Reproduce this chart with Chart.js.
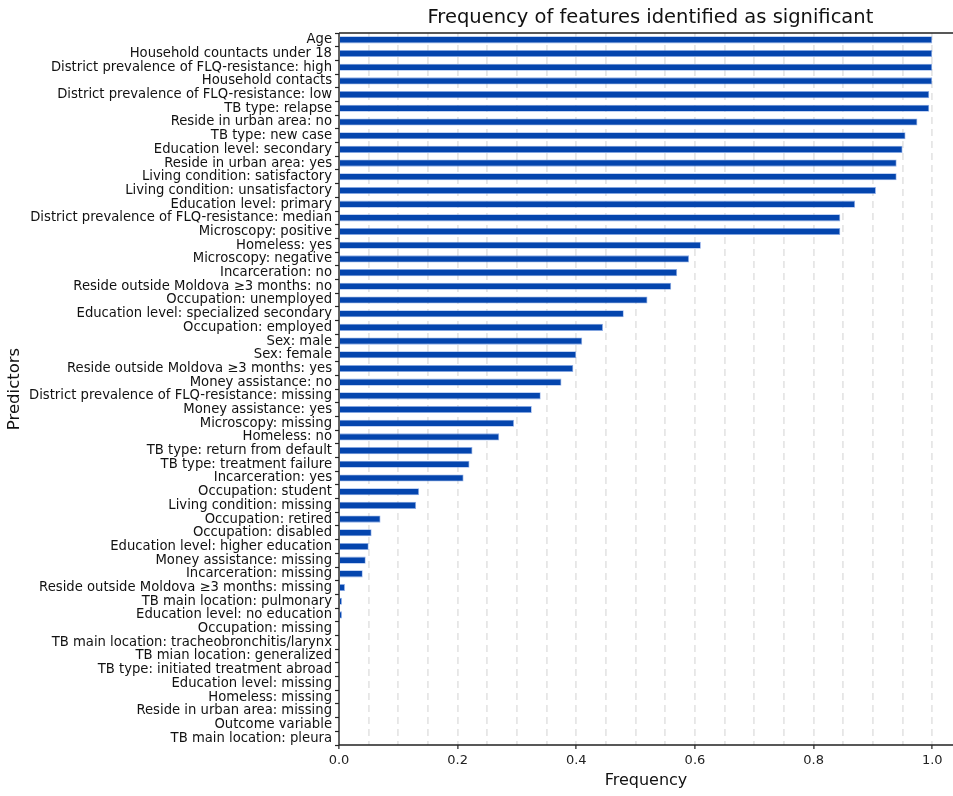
<!DOCTYPE html>
<html>
<head>
<meta charset="utf-8">
<script src="https://cdn.jsdelivr.net/npm/chart.js@4/dist/chart.umd.min.js"></script>
<style>
  html, body { margin: 0; padding: 0; background: #ffffff; }
  canvas { display: block; }
</style>
</head>
<body>
<canvas id="chart" width="953" height="796"></canvas>
<script>
// Predictors, ordered from most to least frequently significant
const predictors = [
  "Age",
  "Household countacts under 18",
  "District prevalence of FLQ-resistance: high",
  "Household contacts",
  "District prevalence of FLQ-resistance: low",
  "TB type: relapse",
  "Reside in urban area: no",
  "TB type: new case",
  "Education level: secondary",
  "Reside in urban area: yes",
  "Living condition: satisfactory",
  "Living condition: unsatisfactory",
  "Education level: primary",
  "District prevalence of FLQ-resistance: median",
  "Microscopy: positive",
  "Homeless: yes",
  "Microscopy: negative",
  "Incarceration: no",
  "Reside outside Moldova \u22653 months: no",
  "Occupation: unemployed",
  "Education level: specialized secondary",
  "Occupation: employed",
  "Sex: male",
  "Sex: female",
  "Reside outside Moldova \u22653 months: yes",
  "Money assistance: no",
  "District prevalence of FLQ-resistance: missing",
  "Money assistance: yes",
  "Microscopy: missing",
  "Homeless: no",
  "TB type: return from default",
  "TB type: treatment failure",
  "Incarceration: yes",
  "Occupation: student",
  "Living condition: missing",
  "Occupation: retired",
  "Occupation: disabled",
  "Education level: higher education",
  "Money assistance: missing",
  "Incarceration: missing",
  "Reside outside Moldova \u22653 months: missing",
  "TB main location: pulmonary",
  "Education level: no education",
  "Occupation: missing",
  "TB main location: tracheobronchitis/larynx",
  "TB mian location: generalized",
  "TB type: initiated treatment abroad",
  "Education level: missing",
  "Homeless: missing",
  "Reside in urban area: missing",
  "Outcome variable",
  "TB main location: pleura"
];

// Share of runs in which each predictor came out as significant
const frequency = [
  1.0, 1.0, 1.0, 1.0, 0.995, 0.995, 0.975, 0.955, 0.95, 0.94,
  0.94, 0.905, 0.87, 0.845, 0.845, 0.61, 0.59, 0.57, 0.56, 0.52,
  0.48, 0.445, 0.41, 0.40, 0.395, 0.375, 0.34, 0.325, 0.295, 0.27,
  0.225, 0.22, 0.21, 0.135, 0.13, 0.07, 0.055, 0.05, 0.045, 0.04,
  0.01, 0.005, 0.005, 0, 0, 0, 0, 0, 0, 0,
  0, 0
];

// Axis settings: the frame runs 0 – 1.05, the canvas shows up to about 1.035
const xMin = 0;
const xMax = 1.035;
const frameEnd = 1.05;
const gridStep = 0.05;
const labelStep = 0.2;

const titleText = "Frequency of features identified as significant";
const xTitle = "Frequency";
const yTitle = "Predictors";

const FONT = "'DejaVu Sans', 'Liberation Sans', sans-serif";

const isLabelTick = v => Math.abs(v / labelStep - Math.round(v / labelStep)) < 1e-6;

// Frame lines (left, bottom, top) and the title above the plot
const framePlugin = {
  id: 'frame',
  afterDraw(chart) {
    const { ctx, chartArea: a, scales } = chart;
    ctx.save();
    ctx.strokeStyle = '#222222';
    ctx.lineWidth = 1.4;
    ctx.beginPath();
    ctx.moveTo(a.left, a.top);
    ctx.lineTo(a.left, a.bottom);
    ctx.lineTo(a.right, a.bottom);
    ctx.moveTo(a.left, a.top);
    ctx.lineTo(a.right, a.top);
    ctx.stroke();

    const cx = (scales.x.getPixelForValue(xMin) + scales.x.getPixelForValue(frameEnd)) / 2;
    ctx.fillStyle = '#111111';
    ctx.font = "19.5px " + FONT;
    ctx.textAlign = 'center';
    ctx.textBaseline = 'middle';
    ctx.fillText(titleText, cx, 18);
    ctx.restore();
  }
};

new Chart(document.getElementById('chart'), {
  type: 'bar',
  data: {
    labels: predictors,
    datasets: [{
      data: frequency,
      backgroundColor: '#0445ae',
      borderColor: 'rgba(110, 150, 225, 0.75)',
      borderWidth: 0.8,
      borderSkipped: 'start',
      barPercentage: 0.52,
      categoryPercentage: 1.0
    }]
  },
  options: {
    indexAxis: 'y',
    responsive: false,
    animation: false,
    devicePixelRatio: 1,
    layout: { padding: { top: 33, right: 0, bottom: 0, left: 0 } },
    plugins: {
      legend: { display: false },
      tooltip: { enabled: false },
      title: { display: false }
    },
    scales: {
      x: {
        type: 'linear',
        min: xMin,
        max: xMax,
        afterBuildTicks(scale) {
          const ticks = [];
          const n = Math.floor((xMax - xMin) / gridStep + 1e-6);
          for (let i = 0; i <= n; i++) {
            ticks.push({ value: +(xMin + i * gridStep).toFixed(4) });
          }
          scale.ticks = ticks;
        },
        afterFit(scale) { scale.height = 51; },
        border: { display: false, dash: [7, 5] },
        grid: {
          color: ctx => (ctx.tick && ctx.tick.value === 0) ? 'rgba(0,0,0,0)' : '#e6e6e6',
          lineWidth: 1.8,
          drawTicks: true,
          tickLength: 4,
          tickWidth: 1.2,
          tickColor: ctx => (ctx.tick && isLabelTick(ctx.tick.value)) ? '#222222' : 'rgba(0,0,0,0)',
          tickBorderDash: []
        },
        ticks: {
          autoSkip: false,
          maxRotation: 0,
          padding: 4,
          color: '#222222',
          font: { family: FONT, size: 13 },
          callback: v => isLabelTick(v) ? v.toFixed(1) : ''
        },
        title: {
          display: true,
          text: xTitle,
          color: '#111111',
          font: { family: FONT, size: 16 },
          padding: { top: 0, bottom: 6 }
        }
      },
      y: {
        afterFit(scale) { scale.width = 339; },
        border: { display: false },
        grid: {
          drawOnChartArea: false,
          drawTicks: true,
          tickLength: 4,
          tickWidth: 1.2,
          tickColor: '#222222'
        },
        ticks: {
          autoSkip: false,
          padding: 3,
          color: '#111111',
          font: { family: FONT, size: 13.2 }
        },
        title: {
          display: true,
          text: yTitle,
          color: '#111111',
          font: { family: FONT, size: 16.5 },
          padding: { top: 5, bottom: 0 }
        }
      }
    }
  },
  plugins: [framePlugin]
});
</script>
</body>
</html>
